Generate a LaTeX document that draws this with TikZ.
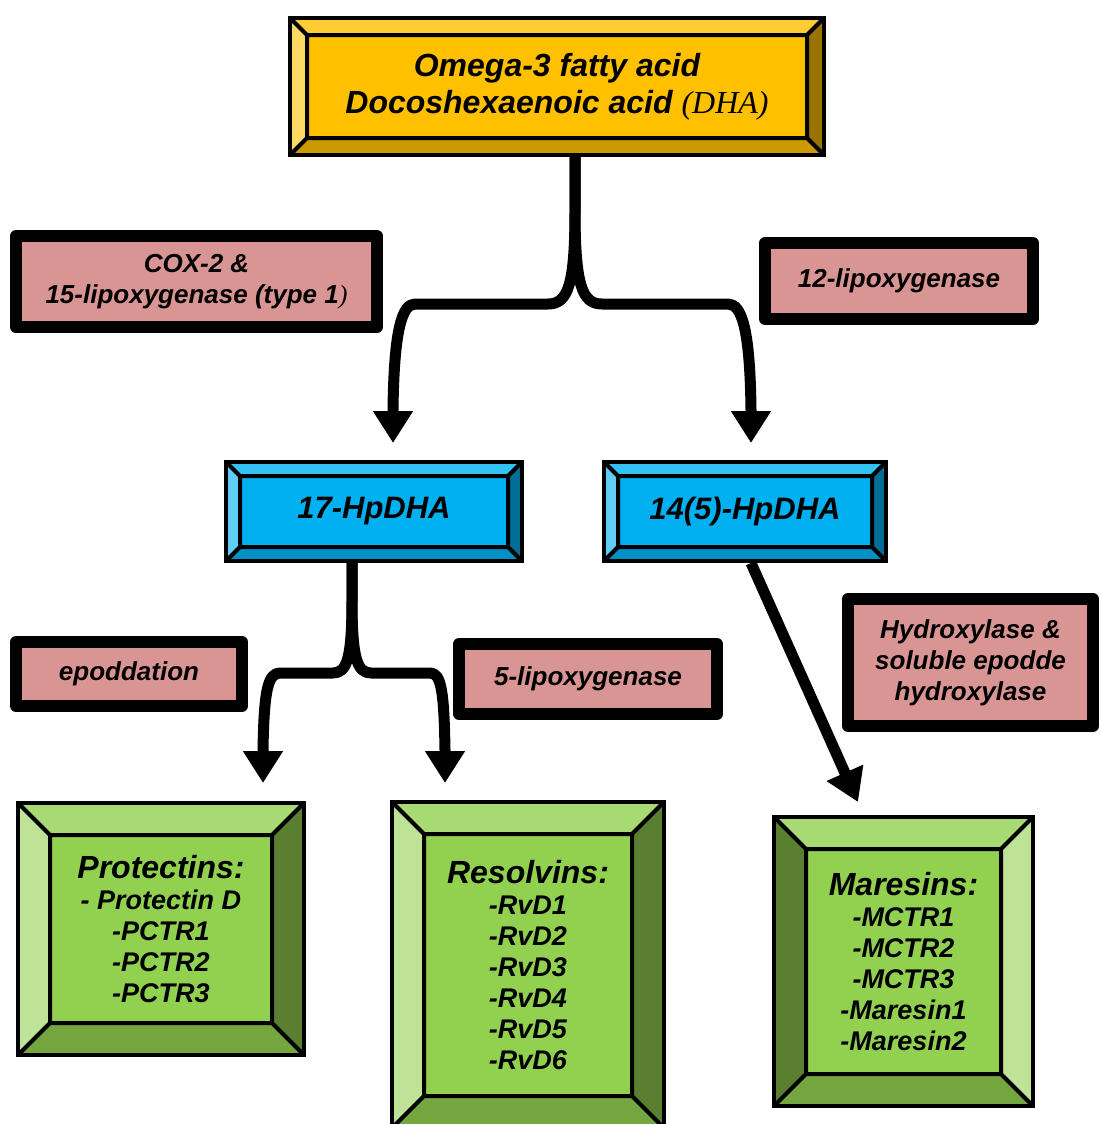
\documentclass[tikz,border=0pt]{standalone}
\usepackage{fontspec}
\setmainfont{Liberation Sans}
\newfontfamily\serifit{Liberation Serif}
\usetikzlibrary{arrows.meta,calc,positioning}

\definecolor{goldC}{HTML}{FFC000}
\definecolor{goldT}{HTML}{FFCD33}
\definecolor{goldL}{HTML}{FFD966}
\definecolor{goldR}{HTML}{997300}
\definecolor{goldB}{HTML}{CC9A00}
\definecolor{blueC}{HTML}{00B0F0}
\definecolor{blueT}{HTML}{33C0F3}
\definecolor{blueL}{HTML}{5FCDF5}
\definecolor{blueR}{HTML}{006E96}
\definecolor{blueB}{HTML}{0090C4}
\definecolor{greenC}{HTML}{92D050}
\definecolor{greenT}{HTML}{A8DA73}
\definecolor{greenL}{HTML}{BEE396}
\definecolor{greenR}{HTML}{5B7F31}
\definecolor{greenB}{HTML}{75A640}
\definecolor{enzpink}{HTML}{D99594}

\newcommand{\boxtitle}[1]{{\fontsize{16pt}{16pt}\selectfont #1}}

\tikzset{
  bevelbox/.style n args={6}{rectangle, draw, line width=2pt, fill=#6, inner sep=0pt, align=center,
    path picture={
      \coordinate (o1) at (path picture bounding box.north west);
      \coordinate (o2) at (path picture bounding box.north east);
      \coordinate (o3) at (path picture bounding box.south east);
      \coordinate (o4) at (path picture bounding box.south west);
      \coordinate (i1) at ($(o1)+(#1,-#1)$);
      \coordinate (i2) at ($(o2)+(-#1,-#1)$);
      \coordinate (i3) at ($(o3)+(-#1,#1)$);
      \coordinate (i4) at ($(o4)+(#1,#1)$);
      \fill[#2] (o1) -- (o2) -- (i2) -- (i1) -- cycle;
      \fill[#3] (o1) -- (i1) -- (i4) -- (o4) -- cycle;
      \fill[#4] (o2) -- (o3) -- (i3) -- (i2) -- cycle;
      \fill[#5] (o4) -- (i4) -- (i3) -- (o3) -- cycle;
      \draw[line width=2pt, line join=round] (o1) -- (i1) (o2) -- (i2) (o3) -- (i3) (o4) -- (i4) (i1) rectangle (i3);
    }}
}

\begin{document}
\begin{tikzpicture}[
    x=0.5pt, y=-0.5pt,
    goldbox/.style={bevelbox={8.5pt}{goldT}{goldL}{goldR}{goldB}{goldC}},
    bluebox/.style={bevelbox={7pt}{blueT}{blueL}{blueR}{blueB}{blueC}, font=\fontsize{15.5pt}{18pt}\selectfont\bfseries\itshape},
    greenbox/.style={bevelbox={16pt}{greenT}{greenL}{greenR}{greenB}{greenC}, font=\fontsize{13.5pt}{15.5pt}\selectfont\bfseries\itshape},
    greenboxflip/.style={bevelbox={16pt}{greenT}{greenR}{greenL}{greenB}{greenC}, font=\fontsize{13.5pt}{15.5pt}\selectfont\bfseries\itshape},
    enzyme/.style={rectangle, draw, line width=6pt, line join=round, fill=enzpink, align=center, inner sep=0pt, font=\fontsize{13pt}{15.5pt}\selectfont\bfseries\itshape},
    flow/.style={line width=5.5pt, line join=round, -{Triangle[width=19pt,length=16pt]}}
]
\useasboundingbox (0,0) rectangle (1099,1124);

% Source
\node[goldbox, minimum width=267pt, minimum height=68.5pt, font=\fontsize{16pt}{18.5pt}\selectfont\bfseries\itshape] (dha) at (557,86.5) {Omega-3 fatty acid\\Docoshexaenoic acid {\serifit\mdseries(DHA)}};

% Intermediates
\node[bluebox, minimum width=148pt, minimum height=49.5pt] (hp17) at (374,511.5) {17-HpDHA};
\node[bluebox, minimum width=141pt, minimum height=49.5pt, right=39pt of hp17] (hp14) {14(5)-HpDHA};

% Products
\node[greenbox, minimum width=143pt, minimum height=126pt] (prot) at (161,929) {\boxtitle{Protectins:}\\- Protectin D\\-PCTR1\\-PCTR2\\-PCTR3};
\node[greenbox, minimum width=136pt, minimum height=163pt] (resol) at (528,965) {\boxtitle{Resolvins:}\\-RvD1\\-RvD2\\-RvD3\\-RvD4\\-RvD5\\-RvD6};
\node[greenboxflip, minimum width=129.5pt, minimum height=144.5pt] (mares) at (903.5,961.5) {\boxtitle{Maresins:}\\-MCTR1\\-MCTR2\\-MCTR3\\-Maresin1\\-Maresin2};

% Enzymes
\node[enzyme, minimum width=180.5pt, minimum height=45.5pt] (cox) at (196.5,281.5) {COX-2 \&\\15-lipoxygenase (type 1{\serifit\mdseries)}};
\node[enzyme, minimum width=134pt, minimum height=38pt] (lox12) at (899,281) {12-lipoxygenase};
\node[enzyme, minimum width=113pt, minimum height=32pt] (epox) at (129,674) {epoddation};
\node[enzyme, minimum width=129pt, minimum height=35pt] (lox5) at (588,679) {5-lipoxygenase};
\node[enzyme, minimum width=122.5pt, minimum height=63.5pt] (hydro) at (970.5,662.5) {Hydroxylase \&\\soluble epodde\\hydroxylase};

% Arrows
\draw[flow] ([xshift=9pt]dha.south) -- (575,210) .. controls (575,285) and (568,304) .. (548,304) -- (415,304) .. controls (402,304) and (394,330) .. (393,410) -- ([xshift=9.5pt,yshift=8.5pt]hp17.north);
\draw[flow] ([xshift=9pt]dha.south) -- (575,210) .. controls (575,285) and (582,304) .. (602,304) -- (728,304) .. controls (742,304) and (750,330) .. (751,410) -- ([xshift=3pt,yshift=8.5pt]hp14.north);
\draw[flow] ([xshift=-11pt]hp17.south) -- (352,600) .. controls (352,658) and (347,673) .. (333,673) -- (280,673) .. controls (268,673) and (264,690) .. (263,750) -- ([xshift=51pt,yshift=9pt]prot.north);
\draw[flow] ([xshift=-11pt]hp17.south) -- (352,600) .. controls (352,658) and (357,673) .. (371,673) -- (430,673) .. controls (441,673) and (444,690) .. (445,750) -- ([xshift=-41.5pt,yshift=8.5pt]resol.north);
\draw[flow] ([xshift=3pt]hp14.south) -- ([xshift=-22.75pt,yshift=6.5pt]mares.north);

\end{tikzpicture}
\end{document}
